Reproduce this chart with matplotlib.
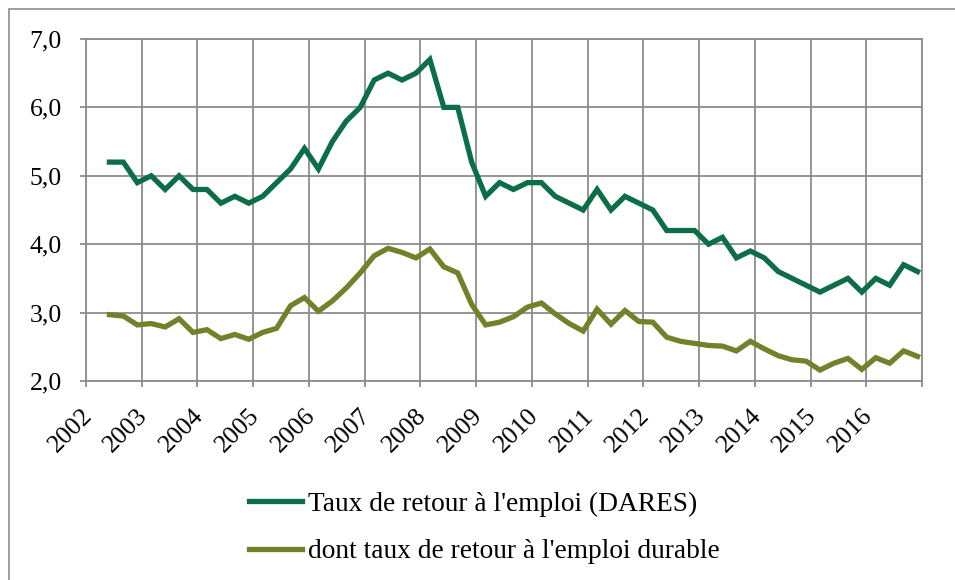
import numpy as np
import matplotlib.pyplot as plt
from matplotlib.patches import Rectangle
from matplotlib.transforms import ScaledTranslation

plt.rcParams['font.family'] = ['Liberation Serif', 'DejaVu Serif']

# données trimestrielles (2002T3 - 2016T4)
taux_retour = [5.2, 5.2, 4.9, 5.0, 4.8, 5.0, 4.8, 4.8, 4.6, 4.7,
               4.6, 4.7, 4.9, 5.1, 5.4, 5.1, 5.5, 5.8, 6.0, 6.4,
               6.5, 6.4, 6.5, 6.7, 6.0, 6.0, 5.2, 4.7, 4.9, 4.8,
               4.9, 4.9, 4.7, 4.6, 4.5, 4.8, 4.5, 4.7, 4.6, 4.5,
               4.2, 4.2, 4.2, 4.0, 4.1, 3.8, 3.9, 3.8, 3.6, 3.5,
               3.4, 3.3, 3.4, 3.5, 3.3, 3.5, 3.4, 3.7, 3.6]
taux_durable = [2.97, 2.95, 2.82, 2.84, 2.79, 2.91, 2.71, 2.75, 2.62, 2.68,
                2.61, 2.71, 2.77, 3.10, 3.22, 3.02, 3.17, 3.36, 3.58, 3.83,
                3.94, 3.88, 3.80, 3.93, 3.67, 3.58, 3.12, 2.82, 2.86, 2.94,
                3.08, 3.14, 2.98, 2.84, 2.73, 3.05, 2.83, 3.03, 2.87, 2.86,
                2.64, 2.58, 2.55, 2.52, 2.51, 2.44, 2.58, 2.47, 2.37, 2.31,
                2.29, 2.16, 2.26, 2.33, 2.17, 2.34, 2.26, 2.44, 2.36]
annees = list(range(2002, 2017))
x = 2002.42 + 0.25 * np.arange(len(taux_retour))

vert = '#0B6E46'
olive = '#75802A'

fig = plt.figure(figsize=(9.55, 5.8), dpi=100)
ax = fig.add_axes([86 / 955, 1 - 381 / 580, (922 - 86) / 955, (381 - 39) / 580])

# cadre extérieur
fig.patches.append(Rectangle((9 / 955, -0.05), 1.1, 1 - 9 / 580 + 0.05,
                             transform=fig.transFigure, fill=False,
                             edgecolor='#8c8c8c', linewidth=1.2))

ax.plot(x, taux_retour, color=vert, linewidth=3.8, solid_joinstyle='miter',
        label="Taux de retour à l'emploi (DARES)")
ax.plot(x, taux_durable, color=olive, linewidth=3.8, solid_joinstyle='miter',
        label="dont taux de retour à l'emploi durable")

ax.set_xlim(2002, 2017)
ax.set_ylim(2.0, 7.0)
ax.set_xticks(range(2002, 2018))
ax.set_xticklabels([str(a) for a in annees] + [''], rotation=45,
                   ha='right', va='baseline', rotation_mode='anchor', fontsize=18.5)
ax.set_yticks(np.arange(2, 7.1, 1))
ax.yaxis.set_major_formatter(plt.FuncFormatter(lambda v, p: ('%.1f' % v).replace('.', ',')))
ax.tick_params(axis='y', labelsize=18.5)

ax.grid(True, color='#8c8c8c', linewidth=1.3)
ax.set_axisbelow(True)
for s in ax.spines.values():
    s.set_color('#8c8c8c')
    s.set_linewidth(1.3)
ax.tick_params(axis='both', color='#8c8c8c', width=1.3, length=4.3)
ax.tick_params(axis='y', pad=13)
ax.tick_params(axis='x', pad=21.5)

# décalage des étiquettes d'années vers la droite
decal = ScaledTranslation(7 / 100, 0, fig.dpi_scale_trans)
for lab in ax.get_xticklabels():
    lab.set_transform(lab.get_transform() + decal)

leg = fig.legend(loc='upper left', bbox_to_anchor=(235 / 955, 1 - 478 / 580),
                 frameon=False, fontsize=19.7, handlelength=1.95,
                 handletextpad=0.2, labelspacing=0.82, borderpad=0)

plt.savefig('out.png', dpi=100)
